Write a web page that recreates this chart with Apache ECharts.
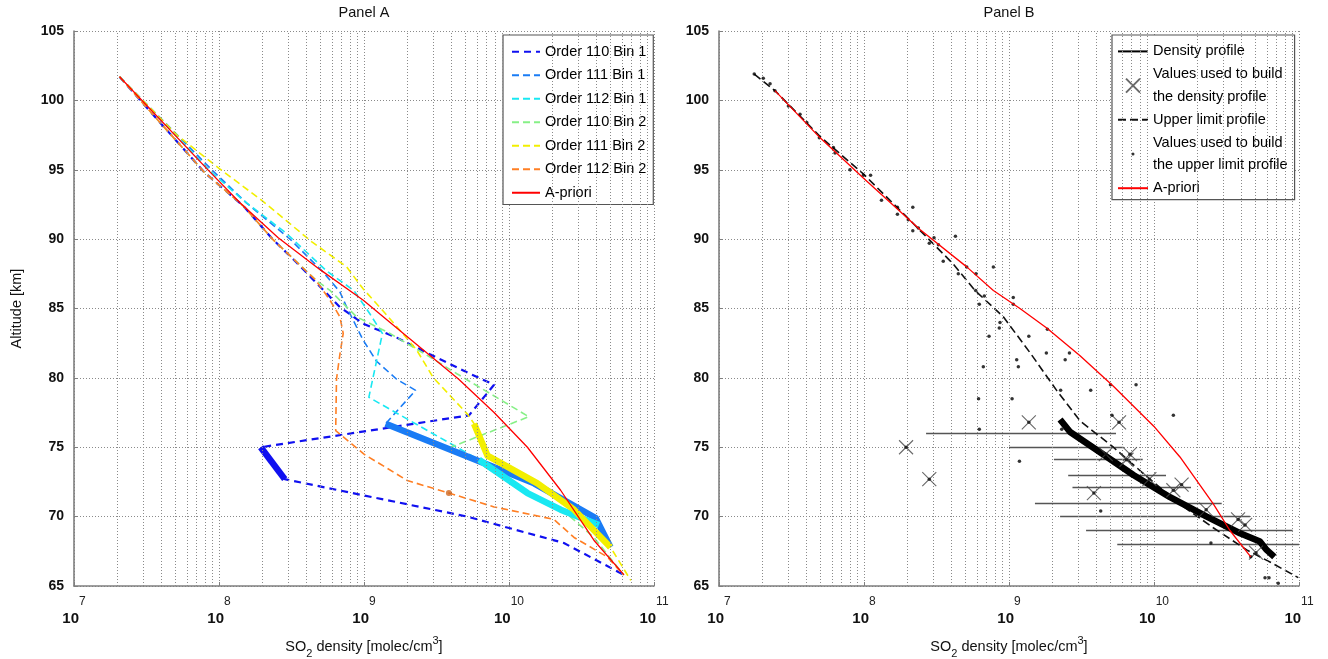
<!DOCTYPE html>
<html>
<head>
<meta charset="utf-8">
<title>SO2 density profiles</title>
<script src="https://cdn.jsdelivr.net/npm/echarts@6/dist/echarts.min.js"></script>
<style>
  html, body { margin: 0; padding: 0; background: #fff; }
  #chart { width: 1328px; height: 659px; }
</style>
</head>
<body>
<div id="chart"></div>
<script>
// ---- Panel A: retrieved profiles, [density molec/cm3, altitude km] ----
const o110b1 = [
  [2.06e7, 101.7], [7.94e7, 94.8], [1.47e8, 92.4], [2.34e8, 90.0], [3.44e8, 88.3],
  [6.82e8, 85.1], [9.89e8, 83.9], [1.68e9, 82.9], [2.85e9, 81.7], [5.37e9, 80.3],
  [7.89e9, 79.5], [5.30e9, 77.3], [1.94e8, 75.0], [2.84e8, 72.7], [5.16e9, 70.0],
  [2.39e10, 68.1], [6.21e10, 65.8]
];
const o110b1Thick = [[1.94e8, 75.0], [2.84e8, 72.7]];

const o111b1 = [
  [2.06e7, 101.7], [8.91e7, 95.0], [1.55e8, 92.6], [3.09e8, 90.0], [5.25e8, 87.6],
  [6.82e8, 86.2], [7.59e8, 85.1], [9.89e8, 82.7], [1.22e9, 81.2], [1.68e9, 79.9],
  [2.27e9, 79.1], [1.41e9, 76.7], [6.55e9, 73.9], [1.49e10, 72.4], [3.96e10, 69.9],
  [5.01e10, 67.8]
];
const o111b1Thick = [[1.41e9, 76.7], [6.55e9, 73.9], [1.49e10, 72.4], [3.96e10, 69.9], [5.01e10, 67.8]];

const o112b1 = [
  [2.06e7, 101.7], [8.71e7, 94.9], [1.47e8, 92.8], [2.93e8, 90.4], [5.53e8, 87.7],
  [8.51e8, 86.3], [1.10e9, 84.6], [1.34e9, 83.2], [1.08e9, 78.6], [6.21e9, 74.1],
  [1.34e10, 71.7], [2.27e10, 70.5], [4.17e10, 69.4]
];
const o112b1Thick = [[6.21e9, 74.1], [1.34e10, 71.7], [2.27e10, 70.5], [4.17e10, 69.4]];

const o110b2 = [
  [2.06e7, 101.7], [7.94e7, 94.8], [1.47e8, 92.4], [2.34e8, 90.0], [4.72e8, 87.0],
  [5.83e8, 86.3], [8.89e8, 84.4], [1.51e9, 83.2], [2.85e9, 81.5], [4.37e9, 80.3],
  [1.37e10, 77.2], [3.96e9, 75.0], [2.51e10, 70.2], [3.85e10, 68.5], [6.17e10, 65.8]
];

const o111b2 = [
  [2.06e7, 101.7], [5.13e7, 97.5], [1.0e8, 95.1], [1.97e8, 92.8], [4.37e8, 89.8],
  [7.59e8, 88.0], [9.89e8, 86.4], [1.36e9, 84.8], [1.78e9, 83.4], [2.31e9, 82.0],
  [3.01e9, 80.0], [5.16e9, 77.4], [5.74e9, 76.7], [7.10e9, 74.4], [1.57e10, 72.4],
  [2.81e10, 70.5], [5.01e10, 67.8], [6.92e10, 65.4]
];
const o111b2Thick = [[5.74e9, 76.7], [7.10e9, 74.4], [1.57e10, 72.4], [2.81e10, 70.5], [5.01e10, 67.8]];

const o112b2 = [
  [2.06e7, 101.7], [7.94e7, 94.8], [1.47e8, 92.4], [2.34e8, 90.0], [4.59e8, 87.1],
  [4.98e8, 86.6], [5.83e8, 85.6], [6.82e8, 84.4], [7.19e8, 83.2], [6.82e8, 81.7],
  [6.46e8, 79.9], [6.38e8, 76.2], [6.92e8, 75.9], [1.0e9, 74.5], [1.99e9, 72.6],
  [3.85e9, 71.7], [7.89e9, 70.7], [2.04e10, 69.8], [2.81e10, 68.5], [4.76e10, 67.1],
  [6.17e10, 65.8]
];
const o112b2Mark = [[3.85e9, 71.7]];

const aprioriA = [
  [2.06e7, 101.7], [8.20e7, 95.1], [1.40e8, 92.6], [2.56e8, 90.1], [4.98e8, 87.8],
  [9.89e8, 85.6], [1.97e9, 83.0], [4.50e9, 79.9], [7.89e9, 77.5], [1.34e10, 75.0],
  [2.27e10, 71.9], [3.85e10, 68.3], [6.21e10, 65.8]
];

// ---- Panel B ----
const densityProfile = [
  [2.25e9, 77.0], [2.64e9, 76.1], [4.03e9, 74.8], [7.21e9, 73.0], [1.29e10, 71.4],
  [2.31e10, 70.0], [3.92e10, 68.8], [5.38e10, 68.2], [5.98e10, 67.6], [6.76e10, 67.1]
];

const upperLimit = [
  [1.75e7, 101.9], [2.43e7, 100.7], [4.98e7, 97.4], [9.89e7, 94.7], [1.97e8, 91.6],
  [4.13e8, 88.2], [5.83e8, 86.3], [9.14e8, 84.4], [1.40e9, 81.8], [2.13e9, 79.1],
  [3.09e9, 76.9], [5.25e9, 75.0], [8.89e9, 72.9], [1.51e10, 70.9], [2.56e10, 69.2],
  [4.36e10, 67.6], [6.65e10, 66.6], [9.89e10, 65.6]
];

const aprioriB = [
  [2.43e7, 100.7], [4.98e7, 97.3], [9.89e7, 94.4], [2.43e8, 90.7], [5.11e8, 88.0],
  [7.80e8, 86.3], [1.19e9, 85.0], [1.82e9, 83.6], [3.09e9, 81.6], [5.25e9, 79.4],
  [1.0e10, 76.5], [1.51e10, 74.3], [2.57e10, 70.9], [3.34e10, 69.0], [4.65e10, 67.1]
];

const densityValues = [
  [1.95e8, 75.0], [2.82e8, 72.7], [1.37e9, 76.8], [5.74e9, 76.8], [6.82e9, 74.5],
  [6.46e9, 74.1], [4.65e9, 74.5], [3.85e9, 71.7], [9.29e9, 72.7], [1.55e10, 72.3],
  [1.36e10, 71.9], [2.29e10, 70.5], [3.80e10, 69.8], [4.25e10, 69.4], [5.05e10, 67.4]
];

const upperValues = [
  [1.75e7, 101.9], [2.02e7, 101.6], [2.25e7, 101.2], [2.43e7, 100.7], [3.01e7, 99.6],
  [3.62e7, 99.0], [4.03e7, 98.4], [4.92e7, 97.3], [6.15e7, 96.6], [6.31e7, 96.2],
  [8.0e7, 95.0], [9.89e7, 94.6], [1.11e8, 94.6], [1.32e8, 92.8], [1.70e8, 92.3],
  [2.17e8, 92.3], [1.70e8, 91.8], [2.02e8, 91.4], [2.17e8, 90.6], [2.37e8, 90.8],
  [2.82e8, 89.7], [3.04e8, 90.1], [3.26e8, 89.6], [4.27e8, 90.2], [3.52e8, 88.4],
  [5.11e8, 88.0], [4.47e8, 87.5], [5.92e8, 87.5], [7.80e8, 88.0], [5.89e8, 86.3],
  [6.76e8, 85.9], [6.24e8, 85.3], [1.07e9, 85.8], [1.07e9, 85.3], [8.67e8, 84.0],
  [8.57e8, 83.6], [7.28e8, 83.0], [1.84e9, 83.5], [1.37e9, 83.0], [2.61e9, 81.8],
  [1.81e9, 81.8], [1.13e9, 81.3], [2.44e9, 81.3], [1.16e9, 80.8], [6.65e8, 80.8],
  [2.27e9, 79.1], [3.66e9, 79.1], [5.01e9, 79.5], [7.52e9, 79.5], [6.17e8, 78.5],
  [1.05e9, 78.5], [1.36e10, 77.3], [5.13e9, 77.3], [6.24e8, 76.3], [2.31e9, 76.3],
  [1.18e9, 74.0], [4.29e9, 70.4], [2.47e10, 68.1], [4.65e10, 67.1], [5.83e10, 65.6],
  [6.21e10, 65.6], [7.19e10, 65.2]
];

// horizontal error bars: [altitude, low, high]
const errorBars = [
  [76.0, 2.68e8, 5.47e9], [75.0, 1.0e9, 6.15e9], [74.1, 2.04e9, 8.36e9],
  [73.0, 2.56e9, 1.21e10], [72.1, 2.74e9, 1.80e10], [71.0, 1.51e9, 2.93e10],
  [70.0, 2.25e9, 4.59e10], [69.0, 3.40e9, 9.04e10], [68.0, 5.58e9, 1.0e11]
];

// minor log gridlines (2..9 x 10^k)
const minorGrid = [];
for (let e = 7; e < 11; e++) {
  for (let m = 2; m <= 9; m++) minorGrid.push(m * Math.pow(10, e));
}

const FONT = "'Liberation Sans', Arial, Helvetica, sans-serif";
const AXIS_GRAY = '#7f7f7f';
const GRID_GRAY = '#8a8a8a';

const colors = {
  o110b1: '#1010f0',
  o111b1: '#1a7cf5',
  o112b1: '#19e8f2',
  o110b2: '#86f086',
  o111b2: '#f2ef00',
  o112b2: '#ff7f24'
};

const chart = echarts.init(document.getElementById('chart'));

function makeXAxis(gridIndex) {
  return {
    type: 'log',
    logBase: 10,
    gridIndex: gridIndex,
    min: 1e7,
    max: 1e11,
    name: 'SO{sub|2} density [molec/cm{sup|3}]',
    nameLocation: 'middle',
    nameGap: 49,
    nameTextStyle: {
      fontFamily: FONT, fontSize: 14.5, color: '#111', lineHeight: 24,
      rich: {
        sub: { fontFamily: FONT, fontSize: 11, verticalAlign: 'bottom', lineHeight: 24, color: '#111' },
        sup: { fontFamily: FONT, fontSize: 11, verticalAlign: 'top', lineHeight: 24, color: '#111' }
      }
    },
    axisLine: { show: true, lineStyle: { color: AXIS_GRAY, width: 1.6 } },
    axisTick: { show: true, inside: true, length: 4, lineStyle: { color: AXIS_GRAY } },
    axisLabel: {
      margin: 10,
      formatter: function (v) {
        return '{b|10}{s|' + Math.round(Math.log10(v)) + '}';
      },
      rich: {
        b: { fontFamily: FONT, fontSize: 15, fontWeight: 'bold', color: '#111', lineHeight: 30, verticalAlign: 'bottom' },
        s: { fontFamily: FONT, fontSize: 12, color: '#222', lineHeight: 30, verticalAlign: 'top' }
      }
    },
    splitLine: { show: true, lineStyle: { type: [1, 2], color: GRID_GRAY, width: 1 } }
  };
}

function makeYAxis(gridIndex, withName) {
  return {
    type: 'value',
    gridIndex: gridIndex,
    min: 65,
    max: 105,
    interval: 5,
    name: withName ? 'Altitude [km]' : '',
    nameLocation: 'middle',
    nameGap: 50,
    nameTextStyle: { fontFamily: FONT, fontSize: 14.5, color: '#111' },
    axisLine: { show: true, lineStyle: { color: AXIS_GRAY, width: 1.6 } },
    axisTick: { show: true, inside: true, length: 4, lineStyle: { color: AXIS_GRAY } },
    axisLabel: { margin: 10, fontFamily: FONT, fontSize: 14, fontWeight: 'bold', color: '#111' },
    splitLine: { show: true, lineStyle: { type: [1, 2], color: GRID_GRAY, width: 1 } }
  };
}

function gridLines(idx) {
  return {
    type: 'line',
    name: '_grid' + idx,
    xAxisIndex: idx,
    yAxisIndex: idx,
    data: [],
    z: 1,
    silent: true,
    markLine: {
      silent: true,
      symbol: ['none', 'none'],
      label: { show: false },
      animation: false,
      lineStyle: { type: [1, 2], color: GRID_GRAY, width: 1 },
      emphasis: { disabled: true },
      data: minorGrid.map(v => ({ xAxis: v }))
    }
  };
}

function dashedA(name, data, color, width, dash) {
  return {
    type: 'line', name: name, data: data, xAxisIndex: 0, yAxisIndex: 0,
    symbol: 'none', showSymbol: false, z: 3,
    itemStyle: { color: color, opacity: 0 },
    lineStyle: { color: color, width: width, type: dash }
  };
}

function thickA(key, data, color) {
  return {
    type: 'line', name: '_thick_' + key, data: data, xAxisIndex: 0, yAxisIndex: 0,
    symbol: 'none', showSymbol: false, z: 4,
    lineStyle: { color: color, width: 6.5, join: 'round' }
  };
}

const xSymbol = 'path://M0,0L10,10M10,0L0,10';
const dotIcon = 'path://M0,0h0.01M14,14h0.01M5.5,7a1.5,1.5 0 1,0 3,0a1.5,1.5 0 1,0 -3,0z';
const noSymbol = { opacity: 0 };

const legendBNames = {
  'Values used to build the density profile': 'Values used to build\nthe density profile',
  'Values used to build the upper limit profile': 'Values used to build\nthe upper limit profile'
};

const legendANames = ['Order 110 Bin 1', 'Order 111 Bin 1', 'Order 112 Bin 1',
  'Order 110 Bin 2', 'Order 111 Bin 2', 'Order 112 Bin 2', 'A-priori'];

const option = {
  animation: false,
  backgroundColor: '#fff',
  textStyle: { fontFamily: FONT },
  graphic: [
    { type: 'text', x: 364, y: 5, style: { text: 'Panel A', fontFamily: FONT, fontSize: 14.5, fill: '#111', align: 'center', textAlign: 'center', verticalAlign: 'top' } },
    { type: 'text', x: 1009, y: 5, style: { text: 'Panel B', fontFamily: FONT, fontSize: 14.5, fill: '#111', align: 'center', textAlign: 'center', verticalAlign: 'top' } }
  ],
  grid: [
    { left: 74, right: 674, top: 31, bottom: 73, outerBoundsMode: 'none', containLabel: false },
    { left: 719, right: 29, top: 31, bottom: 73, outerBoundsMode: 'none', containLabel: false }
  ],
  xAxis: [makeXAxis(0), makeXAxis(1)],
  yAxis: [makeYAxis(0, true), makeYAxis(1, false)],
  legend: [
    {
      orient: 'vertical', left: 503, top: 35,
      padding: [5, 7, 0, 8], itemGap: 0, itemWidth: 28, itemHeight: 14,
      backgroundColor: '#fff', borderColor: '#555', borderWidth: 1.2,
      selectedMode: false,
      textStyle: { fontFamily: FONT, fontSize: 14.5, color: '#000', lineHeight: 23.5 },
      data: legendANames.map(n => ({ name: n, itemStyle: noSymbol }))
    },
    {
      orient: 'vertical', left: 1112, top: 35,
      padding: [5, 7, 0, 5], itemGap: 0, itemWidth: 30, itemHeight: 14,
      backgroundColor: '#fff', borderColor: '#555', borderWidth: 1.2,
      selectedMode: false,
      textStyle: { fontFamily: FONT, fontSize: 14.5, color: '#000', lineHeight: 22.8 },
      formatter: name => legendBNames[name] || name,
      data: [
        { name: 'Density profile', itemStyle: noSymbol },
        'Values used to build the density profile',
        { name: 'Upper limit profile', itemStyle: noSymbol },
        { name: 'Values used to build the upper limit profile', icon: dotIcon },
        { name: 'A-priori', itemStyle: noSymbol }
      ]
    }
  ],
  series: [
    gridLines(0),
    dashedA('Order 110 Bin 1', o110b1, colors.o110b1, 2.2, [7, 5]),
    dashedA('Order 111 Bin 1', o111b1, colors.o111b1, 1.6, [7, 4]),
    dashedA('Order 112 Bin 1', o112b1, colors.o112b1, 1.6, [7, 4]),
    dashedA('Order 110 Bin 2', o110b2, colors.o110b2, 1.6, [7, 4]),
    dashedA('Order 111 Bin 2', o111b2, colors.o111b2, 1.6, [7, 4]),
    dashedA('Order 112 Bin 2', o112b2, colors.o112b2, 1.6, [7, 4]),
    thickA('o110b1', o110b1Thick, colors.o110b1),
    thickA('o111b1', o111b1Thick, colors.o111b1),
    thickA('o112b1', o112b1Thick, colors.o112b1),
    thickA('o111b2', o111b2Thick, colors.o111b2),
    {
      type: 'scatter', name: '_mark_o112b2', data: o112b2Mark, xAxisIndex: 0, yAxisIndex: 0,
      symbol: 'circle', symbolSize: 6, z: 5, itemStyle: { color: '#d0661e' }
    },
    {
      type: 'line', name: 'A-priori', data: aprioriA, xAxisIndex: 0, yAxisIndex: 0,
      symbol: 'none', showSymbol: false, z: 6,
      itemStyle: { color: '#ff0000', opacity: 0 },
      lineStyle: { color: '#ff0000', width: 1.3 }
    },

    gridLines(1),
    {
      type: 'lines', name: '_errorbars', coordinateSystem: 'cartesian2d',
      xAxisIndex: 1, yAxisIndex: 1, z: 3, silent: true,
      lineStyle: { color: '#555', width: 1.3, opacity: 1 },
      data: errorBars.map(b => ({ coords: [[b[1], b[0]], [b[2], b[0]]] }))
    },
    {
      type: 'line', name: 'Upper limit profile', data: upperLimit, xAxisIndex: 1, yAxisIndex: 1,
      symbol: 'none', showSymbol: false, z: 4,
      itemStyle: { color: '#111', opacity: 0 },
      lineStyle: { color: '#111', width: 1.6, type: [8, 4] }
    },
    {
      type: 'line', name: 'Density profile', data: densityProfile, xAxisIndex: 1, yAxisIndex: 1,
      symbol: 'none', showSymbol: false, z: 5,
      itemStyle: { color: '#000', opacity: 0 },
      lineStyle: { color: '#000', width: 6.5, join: 'round' }
    },
    {
      type: 'scatter', name: 'Values used to build the density profile', data: densityValues,
      xAxisIndex: 1, yAxisIndex: 1, symbol: xSymbol, symbolSize: 14, z: 6,
      itemStyle: { color: 'rgba(0,0,0,0)', borderColor: '#444', borderWidth: 1.1 }
    },
    {
      type: 'scatter', name: '_xcenters', data: densityValues,
      xAxisIndex: 1, yAxisIndex: 1, symbol: 'circle', symbolSize: 3.5, z: 6,
      itemStyle: { color: '#111' }
    },
    {
      type: 'scatter', name: 'Values used to build the upper limit profile', data: upperValues,
      xAxisIndex: 1, yAxisIndex: 1, symbol: 'circle', symbolSize: 3.5, z: 6,
      itemStyle: { color: '#000' }
    },
    {
      type: 'line', name: 'A-priori', data: aprioriB, xAxisIndex: 1, yAxisIndex: 1,
      symbol: 'none', showSymbol: false, z: 7,
      itemStyle: { color: '#ff0000', opacity: 0 },
      lineStyle: { color: '#ff0000', width: 1.3 }
    }
  ]
};

chart.setOption(option);
</script>
</body>
</html>
